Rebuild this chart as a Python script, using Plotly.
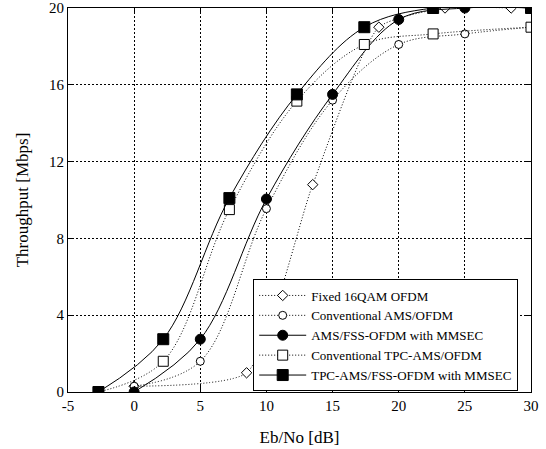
import plotly.graph_objects as go

# Fixed 16QAM OFDM (open diamonds, dotted)
fixed_x = [0, 8.5, 13.5, 18.5, 23.5, 28.5]
fixed_y = [0.3, 1.0, 10.8, 19.0, 20.0, 20.0]

# Conventional AMS/OFDM (open circles, dotted)
conv_ams_x = [0, 5, 10, 15, 20, 25, 30]
conv_ams_y = [0.3, 1.6, 9.55, 15.2, 18.1, 18.65, 19.0]

# AMS/FSS-OFDM with MMSEC (filled circles, solid)
fss_x = [0, 5, 10, 15, 20, 25, 30]
fss_y = [0.0, 2.75, 10.05, 15.5, 19.4, 20.0, 20.0]

# Conventional TPC-AMS/OFDM (open squares, dotted)
conv_tpc_x = [-2.7, 2.2, 7.2, 12.3, 17.4, 22.6, 30]
conv_tpc_y = [0.0, 1.6, 9.5, 15.15, 18.1, 18.65, 19.0]

# TPC-AMS/FSS-OFDM with MMSEC (filled squares, solid)
tpc_fss_x = [-2.7, 2.2, 7.2, 12.3, 17.4, 22.6, 30]
tpc_fss_y = [0.0, 2.75, 10.1, 15.5, 19.0, 20.0, 20.0]

x_ticks = [-5, 0, 5, 10, 15, 20, 25, 30]
y_ticks = [0, 4, 8, 12, 16, 20]

FONT = "Times New Roman, Liberation Serif, Tinos, DejaVu Serif, serif"

fig = go.Figure()

def add(x, y, name, dash, symbol, size, fill, smoothing=1.0):
    fig.add_trace(go.Scatter(
        x=x, y=y, name=name, mode="lines+markers",
        line=dict(color="black", width=1, dash=dash, shape="spline", smoothing=smoothing),
        marker=dict(symbol=symbol, size=size,
                    color="black" if fill else "white",
                    line=dict(color="black", width=1)),
    ))

DOT = "1px,2px"
add(fixed_x, fixed_y, "Fixed 16QAM OFDM", DOT, "diamond", 8, False, 0.55)
add(conv_ams_x, conv_ams_y, "Conventional AMS/OFDM", DOT, "circle", 8, False)
add(fss_x, fss_y, "AMS/FSS-OFDM with MMSEC", "solid", "circle", 10, True)
add(conv_tpc_x, conv_tpc_y, "Conventional TPC-AMS/OFDM", DOT, "square", 10, False)
add(tpc_fss_x, tpc_fss_y, "TPC-AMS/FSS-OFDM with MMSEC", "solid", "square", 11, True)

axis_common = dict(
    showgrid=True, gridcolor="black", griddash="2px,2px", gridwidth=1,
    zeroline=False, showline=True, linecolor="black", linewidth=1, mirror="ticks",
    ticks="inside", ticklen=6, tickcolor="black", automargin=False,
    tickfont=dict(family=FONT, size=15, color="black"),
)

fig.update_xaxes(range=[-5, 30], tickvals=x_ticks, ticktext=[str(v) for v in x_ticks],
                 title=dict(text="Eb/No [dB]", font=dict(family=FONT, size=17, color="black"), standoff=18),
                 **axis_common)
fig.update_yaxes(range=[0, 20], tickvals=y_ticks, ticktext=[str(v) for v in y_ticks],
                 title=dict(text="Throughput [Mbps]", font=dict(family=FONT, size=17, color="black"), standoff=16),
                 **axis_common)

fig.update_layout(
    width=546, height=449,
    margin=dict(l=68, r=15, t=8, b=57, autoexpand=False),
    paper_bgcolor="white", plot_bgcolor="white",
    font=dict(family=FONT, color="black"),
    legend=dict(
        x=0.4, y=0.293, xanchor="left", yanchor="top",
        bgcolor="white", bordercolor="black", borderwidth=1,
        font=dict(family=FONT, size=13, color="black"),
        tracegroupgap=0, itemwidth=47,
    ),
    showlegend=True,
)

fig.write_html("out.html", config={"displayModeBar": False},
               post_script="document.body.style.margin='0';")
